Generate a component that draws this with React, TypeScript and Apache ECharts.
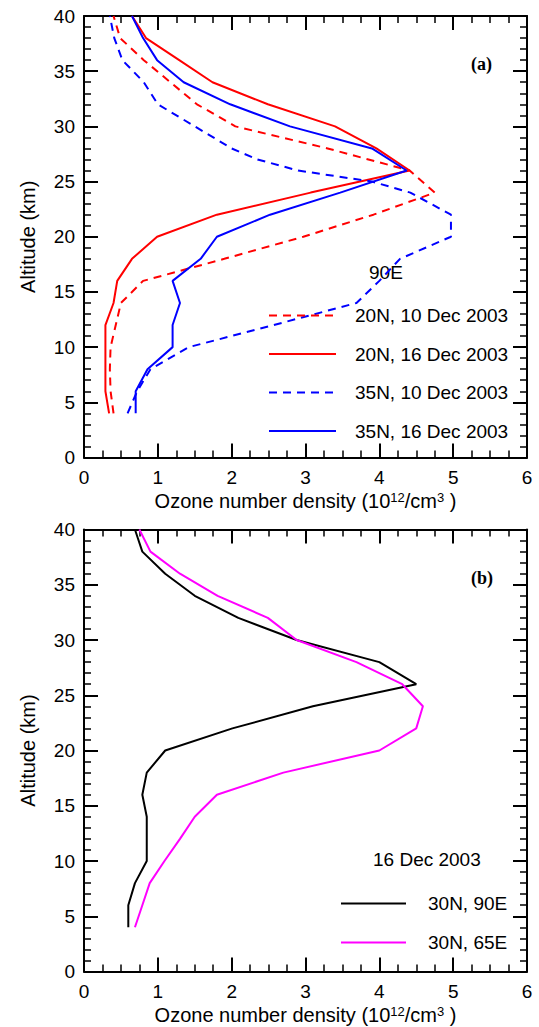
import React, { useEffect, useRef } from 'react';
import * as echarts from 'echarts';

// Altitude grid (km)
const altitudes = [4, 6, 8, 10, 12, 14, 16, 18, 20, 22, 24, 26, 28, 30, 32, 34, 36, 38, 40];
const altitudesFine = [4, 6, 8, 10, 12, 14, 16, 18, 20, 22, 24, 25, 26, 27, 28, 30, 32, 34, 36, 38, 40];

// Panel (a), 90E
const n20Dec10 = [0.40, 0.36, 0.35, 0.36, 0.43, 0.50, 0.80, 1.90, 2.97, 3.92, 4.75, 4.41, 3.30, 2.05, 1.53, 1.17, 0.81, 0.49, 0.40];
const n20Dec16 = [0.34, 0.29, 0.29, 0.29, 0.29, 0.40, 0.45, 0.65, 0.99, 1.80, 3.07, 4.41, 3.96, 3.40, 2.49, 1.74, 1.29, 0.84, 0.65];
const n35Dec10 = [0.59, 0.72, 0.90, 1.42, 2.57, 3.69, 4.00, 4.28, 4.97, 4.97, 4.42, 3.90, 2.90, 2.35, 2.00, 1.50, 1.00, 0.81, 0.52, 0.41, 0.35];
const n35Dec16 = [0.70, 0.70, 0.86, 1.20, 1.20, 1.30, 1.20, 1.58, 1.80, 2.52, 3.47, 4.37, 3.90, 2.79, 1.98, 1.35, 0.99, 0.80, 0.65];

// Panel (b), 16 Dec 2003
const n30E90 = [0.60, 0.60, 0.69, 0.85, 0.85, 0.85, 0.79, 0.85, 1.10, 2.01, 3.10, 4.50, 4.00, 2.88, 2.09, 1.50, 1.10, 0.79, 0.69];
const n30E65 = [0.69, 0.79, 0.89, 1.09, 1.30, 1.50, 1.80, 2.70, 4.00, 4.50, 4.59, 4.31, 3.69, 2.88, 2.49, 1.81, 1.30, 0.90, 0.75];

const xTicks = [0, 1, 2, 3, 4, 5, 6];
const yTicks = [0, 5, 10, 15, 20, 25, 30, 35, 40];

const FONT = 'Liberation Sans, Arial, sans-serif';
const SERIF = 'Liberation Serif, Times New Roman, serif';

const zip = (xs: number[], ys: number[]) => xs.map((x, i) => [x, ys[i]]);

const grids = [
  { left: 84, top: 16, width: 443, height: 441.5 },
  { left: 84, top: 529.5, width: 443, height: 442 },
];

function xAxis(gridIndex: number, position: 'top' | 'bottom', labels: boolean) {
  return {
    type: 'value',
    gridIndex,
    position,
    min: xTicks[0],
    max: xTicks[xTicks.length - 1],
    interval: 1,
    axisLine: { show: true, onZero: false, lineStyle: { color: '#000', width: 2 } },
    axisTick: { show: true, inside: true, length: 14, lineStyle: { color: '#000', width: 2 } },
    minorTick: { show: true, splitNumber: 4, length: 7, lineStyle: { color: '#000', width: 1.5 } },
    splitLine: { show: false },
    axisLabel: { show: labels, color: '#000', fontFamily: FONT, fontSize: 19, margin: 10 },
    name: labels ? 'Ozone number density (10{sup|12}/cm{sup|3} )' : '',
    nameLocation: 'middle',
    nameGap: 33,
    nameTextStyle: {
      color: '#000',
      fontFamily: FONT,
      fontSize: 20,
      rich: {
        sup: { fontSize: 13, fontFamily: FONT, color: '#000', verticalAlign: 'top', lineHeight: 13 },
      },
    },
  };
}

function yAxis(gridIndex: number, position: 'left' | 'right', labels: boolean) {
  return {
    type: 'value',
    gridIndex,
    position,
    min: yTicks[0],
    max: yTicks[yTicks.length - 1],
    interval: 5,
    axisLine: { show: true, onZero: false, lineStyle: { color: '#000', width: 2 } },
    axisTick: { show: true, inside: true, length: 14, lineStyle: { color: '#000', width: 2 } },
    minorTick: { show: true, splitNumber: 5, length: 7, lineStyle: { color: '#000', width: 1.5 } },
    splitLine: { show: false },
    axisLabel: { show: labels, color: '#000', fontFamily: FONT, fontSize: 19, margin: 9 },
    name: labels ? 'Altitude (km)' : '',
    nameLocation: 'middle',
    nameRotate: 90,
    nameGap: 46,
    nameTextStyle: { color: '#000', fontFamily: FONT, fontSize: 20 },
  };
}

function line(name: string, xs: number[], ys: number[], color: string, dashed: boolean, xi: number, yi: number) {
  return {
    name,
    type: 'line',
    xAxisIndex: xi,
    yAxisIndex: yi,
    data: zip(xs, ys),
    symbol: 'none',
    lineStyle: { color, width: 2, type: dashed ? [8, 6] : 'solid' },
    itemStyle: { color },
  };
}

export default function App() {
  const ref = useRef<HTMLDivElement>(null);
  useEffect(() => {
    if (!ref.current) return;
    const chart = echarts.init(ref.current, undefined, { renderer: 'svg' });
    chart.setOption({
      animation: false,
      backgroundColor: '#fff',
      grid: grids,
      xAxis: [xAxis(0, 'bottom', true), xAxis(0, 'top', false), xAxis(1, 'bottom', true), xAxis(1, 'top', false)],
      yAxis: [yAxis(0, 'left', true), yAxis(0, 'right', false), yAxis(1, 'left', true), yAxis(1, 'right', false)],
      legend: [
        {
          orient: 'vertical',
          left: 268,
          top: 306,
          padding: 0,
          itemWidth: 67,
          itemHeight: 18,
          itemGap: 19.5,
          selectedMode: false,
          itemStyle: { opacity: 0 },
          textStyle: { color: '#000', fontFamily: FONT, fontSize: 19, padding: [0, 0, 0, 14] },
          data: ['20N, 10 Dec 2003', '20N, 16 Dec 2003', '35N, 10 Dec 2003', '35N, 16 Dec 2003'],
        },
        {
          orient: 'vertical',
          left: 340,
          top: 894,
          padding: 0,
          itemWidth: 65,
          itemHeight: 18,
          itemGap: 20,
          selectedMode: false,
          itemStyle: { opacity: 0 },
          textStyle: { color: '#000', fontFamily: FONT, fontSize: 19, padding: [0, 0, 0, 17] },
          data: ['30N, 90E', '30N, 65E'],
        },
      ],
      graphic: [
        { type: 'text', left: 471, top: 55, style: { text: '(a)', font: 'bold 18px ' + SERIF, fill: '#000' } },
        { type: 'text', left: 471, top: 569, style: { text: '(b)', font: 'bold 18px ' + SERIF, fill: '#000' } },
        { type: 'text', left: 369, top: 263, style: { text: '90E', font: '19px ' + FONT, fill: '#000' } },
        { type: 'text', left: 373, top: 850, style: { text: '16 Dec 2003', font: '19px ' + FONT, fill: '#000' } },
      ],
      series: [
        line('20N, 10 Dec 2003', n20Dec10, altitudes, '#ff0000', true, 0, 0),
        line('20N, 16 Dec 2003', n20Dec16, altitudes, '#ff0000', false, 0, 0),
        line('35N, 10 Dec 2003', n35Dec10, altitudesFine, '#0000ff', true, 0, 0),
        line('35N, 16 Dec 2003', n35Dec16, altitudes, '#0000ff', false, 0, 0),
        line('30N, 90E', n30E90, altitudes, '#000000', false, 2, 2),
        line('30N, 65E', n30E65, altitudes, '#ff00ff', false, 2, 2),
      ],
    });
    return () => chart.dispose();
  }, []);
  return <div ref={ref} style={{ position: 'absolute', left: 0, top: 0, width: 539, height: 1027 }} />;
}
